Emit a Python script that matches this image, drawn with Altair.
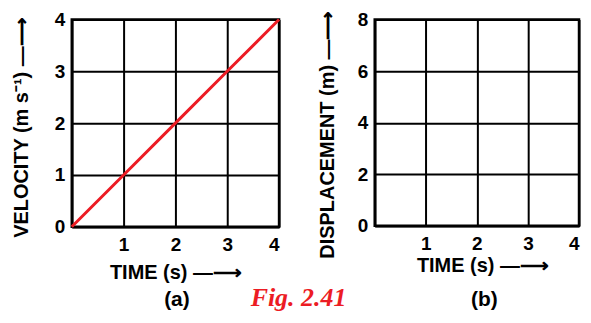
import altair as alt
import pandas as pd

# ---- data ----
# Panel (a): velocity-time graph (straight line through origin)
time_a = [0, 1, 2, 3, 4]
velocity = [0, 1, 2, 3, 4]
# Panel (b): empty displacement-time grid (only its ranges)
time_b = [0, 4]
displacement = [0, 8]

x_ticks = [0, 1, 2, 3, 4]
y_ticks_a = [0, 1, 2, 3, 4]
y_ticks_b = [0, 2, 4, 6, 8]

caption_a = ["(a)"]
caption_fig = ["Fig. 2.41"]
caption_b = ["(b)"]

FONT = "Liberation Sans"
RED = "#ec1c24"
ARROW = "\u2014\u27f6"

W_A, H_A = 208, 208
W_B, H_B = 205, 207
CAP_Y = 288

df_a = pd.DataFrame({"t": time_a, "v": velocity})
df_b = pd.DataFrame({"t": time_b, "s": displacement})

line_a = (
    alt.Chart(df_a)
    .mark_line(color=RED, strokeWidth=3)
    .encode(
        x=alt.X(
            "t:Q",
            scale=alt.Scale(domain=[0, 4], nice=False),
            axis=alt.Axis(
                values=x_ticks,
                title="TIME (s) " + ARROW,
                labelExpr="datum.value == 0 ? '' : datum.label",
                labelPadding=9,
                titlePadding=8,
            ),
        ),
        y=alt.Y(
            "v:Q",
            scale=alt.Scale(domain=[0, 4], nice=False),
            axis=alt.Axis(values=y_ticks_a, title="VELOCITY (m s\u207b\u00b9) " + ARROW,
                          titlePadding=23, titleY=108),
        ),
    )
)

cap_a = (
    alt.Chart(pd.DataFrame({"c": caption_a}))
    .mark_text(font=FONT, fontSize=21, fontWeight="bold", color="black", baseline="alphabetic")
    .encode(x=alt.value(105.5), y=alt.value(CAP_Y), text="c:N")
)
cap_fig = (
    alt.Chart(pd.DataFrame({"c": caption_fig}))
    .mark_text(font="Liberation Serif", fontSize=26, fontWeight="bold", fontStyle="italic",
               color=RED, baseline="alphabetic")
    .encode(x=alt.value(227.5), y=alt.value(CAP_Y), text="c:N")
)

panel_a = alt.layer(line_a, cap_a, cap_fig).properties(width=W_A, height=H_A)

pts_b = (
    alt.Chart(df_b)
    .mark_point(opacity=0)
    .encode(
        x=alt.X(
            "t:Q",
            scale=alt.Scale(domain=[0, 4], nice=False),
            axis=alt.Axis(
                values=x_ticks,
                title="TIME (s) " + ARROW,
                labelExpr="datum.value == 0 ? '' : datum.label",
                labelPadding=9,
                labelFlush=True,
                titlePadding=0,
                titleY=30,
                titleX=108,
            ),
        ),
        y=alt.Y(
            "s:Q",
            scale=alt.Scale(domain=[0, 8], nice=False),
            axis=alt.Axis(values=y_ticks_b, title="DISPLACEMENT (m) " + ARROW,
                          titlePadding=20, titleY=115),
        ),
    )
)
cap_b = (
    alt.Chart(pd.DataFrame({"c": caption_b}))
    .mark_text(font=FONT, fontSize=21, fontWeight="bold", color="black", baseline="alphabetic")
    .encode(x=alt.value(110), y=alt.value(CAP_Y), text="c:N")
)
panel_b = alt.layer(pts_b, cap_b).properties(width=W_B, height=H_B)

chart = (
    alt.hconcat(panel_a, panel_b, spacing=96, bounds="flush")
    .properties(padding={"left": 2, "top": 0, "right": 0, "bottom": 0}, background="white")
    .configure_axis(
        domainColor="black",
        domainWidth=2.5,
        grid=True,
        gridColor="black",
        gridWidth=2,
        gridOpacity=1,
        ticks=False,
        tickSize=0,
        labelFont=FONT,
        labelFontSize=19,
        labelFontWeight="bold",
        labelColor="black",
        labelPadding=7,
        labelOverlap=False,
        titleFont=FONT,
        titleFontSize=20,
        titleFontWeight="bold",
        titleColor="black",
    )
    .configure_view(stroke="black", strokeWidth=2.5)
)

chart.save("out.html", embed_options={"renderer": "svg", "actions": False})
